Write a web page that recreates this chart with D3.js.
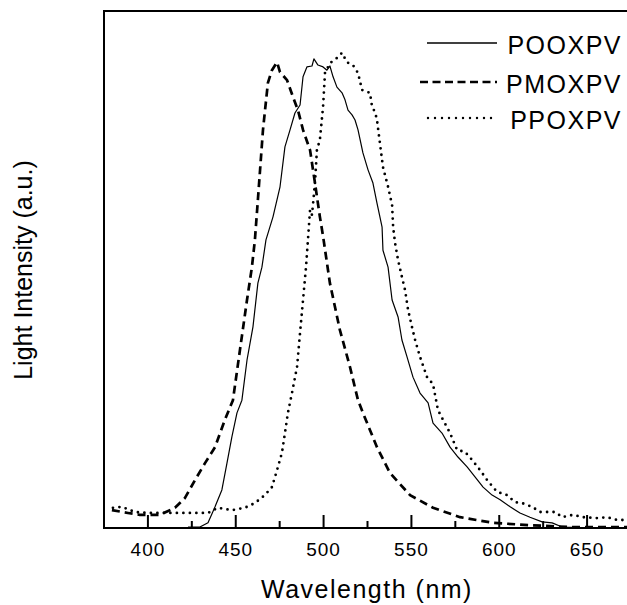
<!DOCTYPE html>
<html>
<head>
<meta charset="utf-8">
<script src="https://cdn.jsdelivr.net/npm/d3@7"></script>
<style>
  body { margin: 0; background: #fff; }
  svg { display: block; font-family: "Liberation Sans", Arial, sans-serif; }
</style>
</head>
<body>
<svg id="chart" width="627" height="605"></svg>
<script>
// emission spectra, wavelength (nm) / normalised intensity
const seriesNames = ["POOXPV", "PMOXPV", "PPOXPV"];
const xTicks = [400, 450, 500, 550, 600, 650];
const xMinorTicks = [425, 475, 525, 575, 625, 675];

const pooWl = [422.8, 429.6, 434.2, 438.2, 442.1, 445.0, 447.8, 450.7, 453.5, 456.4, 459.8, 462.6, 464.9, 467.2, 471.2, 475.2, 478.0, 480.9, 483.7, 486.6, 488.3, 490.5, 493.4, 494.5, 496.8, 499.7, 501.9, 503.6, 505.4, 507.6, 510.5, 512.2, 513.9, 516.2, 517.9, 519.6, 522.4, 525.3, 528.1, 530.4, 533.3, 533.8, 536.7, 539.0, 542.4, 544.6, 547.5, 550.9, 554.9, 559.5, 562.3, 567.4, 572.0, 576.5, 581.7, 586.2, 590.8, 595.9, 600.5, 606.2, 611.8, 617.5, 624.4, 630.1, 635.8, 645];
const pooVal = [0.002, 0.002, 0.011, 0.045, 0.081, 0.138, 0.194, 0.245, 0.272, 0.357, 0.428, 0.521, 0.555, 0.613, 0.662, 0.726, 0.811, 0.847, 0.883, 0.900, 0.960, 0.981, 0.983, 0.998, 0.985, 0.981, 0.974, 0.983, 0.960, 0.938, 0.926, 0.911, 0.889, 0.879, 0.868, 0.847, 0.798, 0.762, 0.734, 0.691, 0.640, 0.591, 0.555, 0.485, 0.449, 0.400, 0.364, 0.321, 0.287, 0.266, 0.223, 0.202, 0.172, 0.151, 0.130, 0.109, 0.087, 0.070, 0.060, 0.045, 0.032, 0.023, 0.013, 0.011, 0.002, 0.001];

const pmoWl = [379.5, 388.6, 395.4, 406.8, 415.4, 421.1, 426.8, 432.5, 438.2, 443.8, 448.4, 452.4, 456.4, 459.2, 460.9, 462.6, 465.5, 468.3, 470.6, 473.5, 475.2, 479.2, 482.6, 485.4, 488.3, 492.3, 495.1, 497.9, 499.7, 503.6, 509.3, 515.0, 519.6, 522.4, 530.4, 537.8, 549.2, 562.3, 577.7, 596.5, 617.5, 640.0, 672.8];
const pmoVal = [0.038, 0.032, 0.028, 0.028, 0.043, 0.064, 0.102, 0.138, 0.172, 0.230, 0.272, 0.379, 0.485, 0.555, 0.613, 0.698, 0.847, 0.947, 0.974, 0.991, 0.970, 0.953, 0.917, 0.889, 0.847, 0.804, 0.734, 0.662, 0.621, 0.521, 0.421, 0.343, 0.272, 0.245, 0.172, 0.117, 0.070, 0.043, 0.023, 0.011, 0.006, 0.002, 0.002];

const ppoWl = [380.1, 385.2, 392.6, 400.0, 408.0, 421.1, 434.2, 439.9, 447.8, 455.2, 460.9, 466.6, 470.6, 473.5, 476.3, 478.0, 479.7, 482.0, 484.9, 486.6, 488.3, 490.0, 491.1, 492.3, 493.4, 495.1, 496.2, 497.9, 499.7, 500.8, 503.6, 507.6, 510.5, 513.3, 516.7, 519.6, 521.9, 524.7, 526.4, 527.6, 529.3, 530.4, 533.8, 536.7, 539.0, 539.6, 540.7, 542.4, 544.6, 546.4, 548.1, 550.3, 552.1, 554.9, 558.9, 562.3, 565.1, 568.0, 572.0, 576.0, 580.5, 584.5, 589.1, 593.1, 598.7, 604.4, 609.0, 613.0, 618.7, 623.2, 631.8, 635.8, 642.0, 647.7, 655.7, 661.4, 667.1, 672.8];
const ppoVal = [0.043, 0.045, 0.034, 0.032, 0.032, 0.032, 0.032, 0.043, 0.038, 0.043, 0.053, 0.070, 0.087, 0.123, 0.160, 0.202, 0.245, 0.287, 0.343, 0.415, 0.485, 0.555, 0.613, 0.677, 0.666, 0.734, 0.804, 0.826, 0.896, 0.968, 0.989, 1.000, 1.011, 0.991, 0.985, 0.968, 0.932, 0.928, 0.926, 0.896, 0.885, 0.868, 0.768, 0.726, 0.687, 0.640, 0.606, 0.570, 0.534, 0.506, 0.464, 0.428, 0.400, 0.364, 0.321, 0.306, 0.251, 0.230, 0.202, 0.166, 0.162, 0.145, 0.123, 0.102, 0.077, 0.070, 0.055, 0.053, 0.045, 0.034, 0.034, 0.023, 0.028, 0.023, 0.021, 0.023, 0.017, 0.017];

const svg = d3.select("#chart");
const plotLeft = 104, plotRight = 631, plotTop = 11, plotBottom = 528;

const x = d3.scaleLinear().domain([375, 675]).range([plotLeft, plotRight]);
const y = d3.scaleLinear().domain([0, 1.1]).range([plotBottom, plotTop]);

// curves
const line = d3.line().x(d => x(d[0])).y(d => y(d[1]));
const styles = [
  { width: 1.2, dash: null, cap: "butt" },
  { width: 2.7, dash: "8,5", cap: "butt" },
  { width: 2.8, dash: "0,6.5", cap: "round" }
];
const series = [
  d3.zip(pooWl, pooVal),
  d3.zip(pmoWl, pmoVal),
  d3.zip(ppoWl, ppoVal)
];

const plot = svg.append("g");
plot.append("clipPath").attr("id", "clip")
  .append("rect").attr("x", plotLeft).attr("y", plotTop)
  .attr("width", plotRight - plotLeft).attr("height", plotBottom - plotTop);

series.forEach((s, i) => {
  plot.append("path")
    .datum(s)
    .attr("clip-path", "url(#clip)")
    .attr("d", line)
    .attr("fill", "none")
    .attr("stroke", "#000")
    .attr("stroke-width", styles[i].width)
    .attr("stroke-dasharray", styles[i].dash)
    .attr("stroke-linecap", styles[i].cap)
    .attr("stroke-linejoin", "round");
});

// frame
svg.append("rect")
  .attr("x", plotLeft).attr("y", plotTop)
  .attr("width", plotRight - plotLeft).attr("height", plotBottom - plotTop)
  .attr("fill", "none").attr("stroke", "#000").attr("stroke-width", 2);

// bottom axis, ticks pointing inward
const xAxis = svg.append("g").attr("transform", `translate(0,${plotBottom})`);
xAxis.selectAll(".major").data(xTicks).enter().append("line")
  .attr("class", "major")
  .attr("x1", d => x(d)).attr("x2", d => x(d))
  .attr("y1", 0).attr("y2", -13)
  .attr("stroke", "#000").attr("stroke-width", 2);
xAxis.selectAll(".minor").data(xMinorTicks).enter().append("line")
  .attr("class", "minor")
  .attr("x1", d => x(d)).attr("x2", d => x(d))
  .attr("y1", 0).attr("y2", -7)
  .attr("stroke", "#000").attr("stroke-width", 2);
xAxis.selectAll("text").data(xTicks).enter().append("text")
  .attr("x", d => x(d)).attr("y", 28)
  .attr("text-anchor", "middle")
  .attr("font-size", 19).attr("letter-spacing", 1)
  .text(d => d);

svg.append("text")
  .attr("x", 367).attr("y", 598)
  .attr("text-anchor", "middle")
  .attr("font-size", 25).attr("letter-spacing", 1.5)
  .text("Wavelength (nm)");

svg.append("text")
  .attr("transform", "translate(32,270) rotate(-90)")
  .attr("text-anchor", "middle")
  .attr("font-size", 25)
  .text("Light Intensity (a.u.)");

// legend
const legendY = [43, 82, 118];
const legendX1 = [427, 420, 428];
const legend = svg.append("g");
seriesNames.forEach((name, i) => {
  legend.append("line")
    .attr("x1", legendX1[i]).attr("x2", 497)
    .attr("y1", legendY[i]).attr("y2", legendY[i])
    .attr("stroke", "#000")
    .attr("stroke-width", i === 0 ? 1.4 : 2.4)
    .attr("stroke-dasharray", i === 1 ? "8,4.5" : i === 2 ? "0,7" : null)
    .attr("stroke-linecap", styles[i].cap);
  legend.append("text")
    .attr("x", 622).attr("y", legendY[i] + 11)
    .attr("text-anchor", "end")
    .attr("font-size", 25).attr("letter-spacing", 1.5)
    .text(name);
});
</script>
</body>
</html>
